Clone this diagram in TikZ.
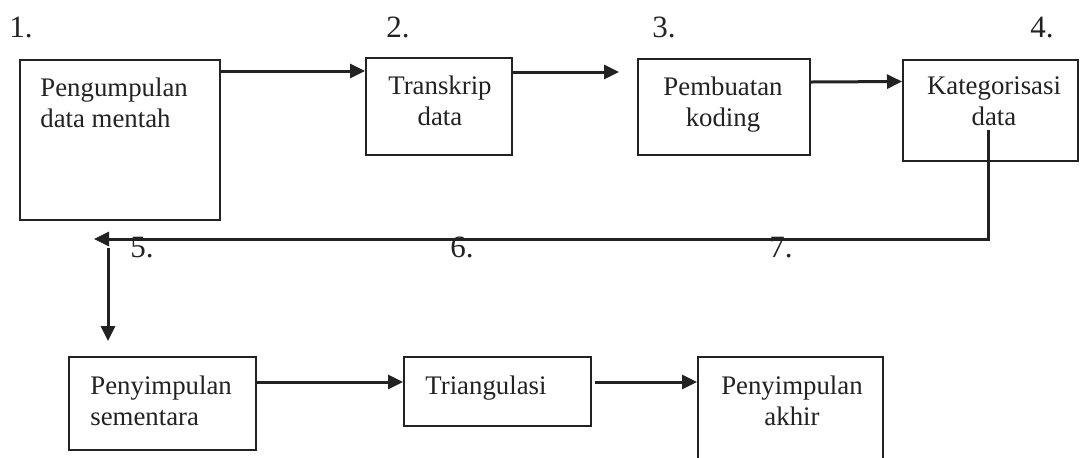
\documentclass[tikz,border=0pt]{standalone}
\usepackage{fontspec}
\setmainfont{Liberation Serif}
\usetikzlibrary{arrows.meta,calc}
\definecolor{ink}{HTML}{222222}
\begin{document}
\begin{tikzpicture}[x=0.5pt,y=-0.5pt,
  box/.style={draw=ink, line width=1pt, inner sep=0pt, fill=none},
  txt/.style={inner sep=0pt, text=ink, font=\fontsize{13.4}{15.5}\selectfont},
  num/.style={inner sep=0pt, anchor=base west, text=ink, font=\fontsize{15.5}{18}\selectfont},
  conn/.style={draw=ink, line width=1.5pt},
  arr/.style={conn, -{Triangle[length=7.5pt,width=7pt]}}]
\useasboundingbox (0,0) rectangle (1081,457);
\clip (0,0) rectangle (1081,457);
\fill[white] (0,0) rectangle (1081,457);

% boxes
\node[box, minimum width=100pt, minimum height=80pt] (b1) at (120,140) {};
\node[box, minimum width=73pt, minimum height=48.5pt] (b2) at (439,106.5) {};
\node[box, minimum width=86pt, minimum height=48pt] (b3) at (724,107) {};
\node[box, minimum width=87.5pt, minimum height=50.5pt] (b4) at (990.5,110) {};
\node[box, minimum width=93.5pt, minimum height=46.5pt] (b5) at (162.5,403.5) {};
\node[box, minimum width=93.5pt, minimum height=34.5pt] (b6) at (497.5,391.5) {};
\node[box, minimum width=92.5pt, minimum height=61.5pt] (b7) at (790.5,418.5) {};

% texts
\node[txt, anchor=north west, align=left] (t1) at (40,77) {Pengumpulan\\data mentah};
\node[txt, anchor=north, align=center] (t2) at (440,75) {Transkrip\\data};
\node[txt, anchor=north, align=center] (t3) at (723,76) {Pembuatan\\koding};
\node[txt, anchor=north, align=center] (t4) at (994,76) {Kategorisasi\\data};
\node[txt, anchor=north west, align=left] (t5) at (90,375) {Penyimpulan\\sementara};
\node[txt, anchor=north west, align=left] (t6) at (425,375) {Triangulasi};
\node[txt, anchor=north, align=center] (t7) at (792,375) {Penyimpulan\\akhir};

% numbers
\node[num] (n1) at (9,37) {1.};
\node[num] (n2) at (386,37) {2.};
\node[num] (n3) at (652,37) {3.};
\node[num] (n4) at (1030,37) {4.};
\node[num] (n5) at (130,257) {5.};
\node[num] (n6) at (450,257) {6.};
\node[num] (n7) at (769,257) {7.};

% connectors
\draw[arr] ([yshift=-6pt]b1.north east) -- ([yshift=-7pt]b2.north west);
\draw[arr] ([yshift=-7.5pt]b2.north east) -- ([xshift=-9pt,yshift=-7pt]b3.north west);
\draw[arr] ([yshift=-12pt]b3.north east) -- ([yshift=-11.5pt]b4.north west);
\coordinate (c4) at (988,130);
\coordinate (c5) at (94,239);
\draw[arr] (c4) |- (c5);
\coordinate (d1) at (108,248);
\coordinate (d2) at (108,341);
\draw[arr] (d1) -- (d2);
\draw[arr] ([yshift=-13pt]b5.north east) -- ([yshift=-13pt]b6.north west);
\draw[arr] ([xshift=1.5pt,yshift=-13pt]b6.north east) -- ([yshift=-13pt]b7.north west);
\end{tikzpicture}
\end{document}
